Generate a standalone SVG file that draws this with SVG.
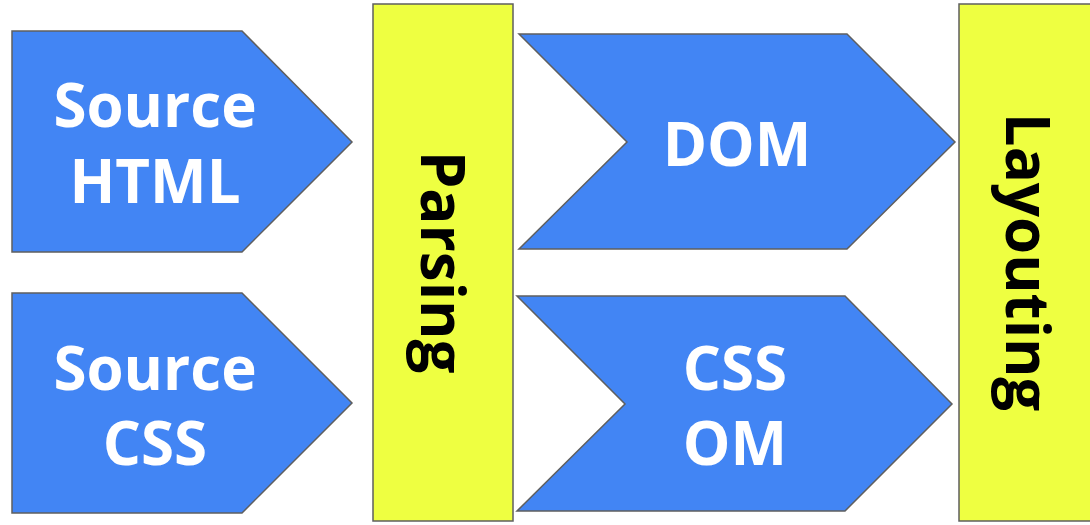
<svg xmlns="http://www.w3.org/2000/svg" width="1090" height="525" viewBox="0 0 1090 525">
<style>
.blue{fill:#4285f4;stroke:#5f5f5f;stroke-width:1.5}
.bar{fill:#eeff41;stroke:#5f5f5f;stroke-width:1.5}
.wt{font-family:"Open Sans",Roboto,sans-serif;font-weight:bold;font-size:60px;fill:#ffffff;text-anchor:middle}
.bt{font-family:"Open Sans",Roboto,sans-serif;font-weight:bold;font-size:60px;fill:#000000;text-anchor:middle}
</style>
<rect width="1090" height="525" fill="#ffffff"/>
<g id="source-html">
<polygon class="blue" points="12,31 242,31 352,142 242,252 12,252"/>
<text class="wt" x="155" y="127">Source</text>
<text class="wt" x="155" y="203">HTML</text>
</g>
<g id="source-css">
<polygon class="blue" points="12,293 242,293 352,403 242,513 12,513"/>
<text class="wt" x="155" y="390">Source</text>
<text class="wt" x="155" y="465">CSS</text>
</g>
<g id="parsing">
<rect class="bar" x="373" y="4" width="140" height="517"/>
<text class="bt" transform="translate(421,262) rotate(90)" x="0" y="0">Parsing</text>
</g>
<g id="dom">
<polygon class="blue" points="519,34 847,34 955,142 847,249 519,249 627,142"/>
<text class="wt" x="737" y="166">DOM</text>
</g>
<g id="cssom">
<polygon class="blue" points="517,296 845,296 952,404 845,511 517,511 625,404"/>
<text class="wt" x="735" y="390">CSS</text>
<text class="wt" x="735" y="465">OM</text>
</g>
<g id="layouting">
<rect class="bar" x="959" y="4" width="140" height="517"/>
<text class="bt" transform="translate(1006,262) rotate(90)" x="0" y="0">Layouting</text>
</g>
<g id="connectors"></g>
</svg>
